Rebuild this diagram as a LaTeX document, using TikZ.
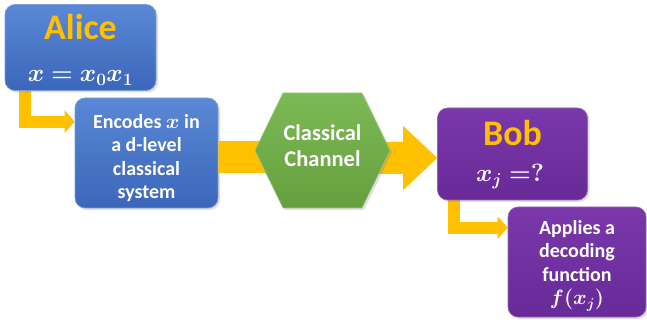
\documentclass[tikz,border=0pt]{standalone}
\usepackage{bm}
\usepackage{fontspec}
\setmainfont{Carlito}
\usetikzlibrary{arrows.meta,shadows,calc}
\definecolor{boxblue}{HTML}{4472C4}
\definecolor{bluetop}{HTML}{5A88D6}
\definecolor{bluebot}{HTML}{3C66BA}
\definecolor{boxpurple}{HTML}{7030A0}
\definecolor{purptop}{HTML}{7A38AA}
\definecolor{purpbot}{HTML}{682A98}
\definecolor{chgreen}{HTML}{70AD47}
\definecolor{greentop}{HTML}{7CB955}
\definecolor{greenbot}{HTML}{66A03E}
\definecolor{arrowyel}{HTML}{FFC000}
\definecolor{titleyel}{HTML}{FFC000}
\newcommand{\midfont}{\bfseries\fontsize{20}{23.5}\selectfont}
\newcommand{\chanfont}{\bfseries\fontsize{22.5}{26}\selectfont}
\newcommand{\mymathfont}{\fontsize{24}{28}\selectfont}
\newcommand{\titlefont}{\bfseries\fontsize{36}{38}\selectfont}
\newcommand{\lines}[1]{\begin{tabular}{@{}c@{}}#1\end{tabular}}
\tikzset{
  basebox/.style={rectangle, rounded corners=10pt, inner sep=0pt,
    drop shadow={shadow xshift=2pt, shadow yshift=-2pt, opacity=0.25}},
  bluebox/.style={basebox, top color=bluetop, bottom color=bluebot, draw=boxblue!70!white, line width=0.6pt},
  purplebox/.style={basebox, top color=purptop, bottom color=purpbot, draw=boxpurple!75!white, line width=0.6pt},
  boxtext/.style={text=white, inner sep=0pt, font=\midfont},
  elbow/.style={draw=arrowyel, line width=12pt, line join=miter,
    -{Triangle[length=10pt,width=22pt]}},
  bigarrow/.style={fill=arrowyel},
  title/.style={text=titleyel, font=\titlefont, anchor=base},
  mathtext/.style={text=white, font=\mymathfont, anchor=base},
}
\begin{document}
\begin{tikzpicture}[x=1pt,y=-1pt]
\useasboundingbox (0,0) rectangle (647,320);
% lower boxes
\node[bluebox, minimum width=143pt, minimum height=110pt] (enc) at (146.5,153) {};
\node[boxtext] (enct) at ([yshift=-6pt]enc.center) {\lines{Encodes $\bm{x}$ in\\ a d-level\\ classical\\ system}};
\node[purplebox, minimum width=138pt, minimum height=110pt] (app) at (577,262) {};
\node[boxtext] (appt) at ([yshift=-3pt]app.center) {\lines{Applies a\\ decoding\\ function\\ $\bm{f(x_j)}$}};
% elbow arrows
\coordinate (astart) at (25,88);
\coordinate (bstart) at (454,198);
\draw[elbow] (astart) |- ([yshift=-24pt]enc.north west);
\draw[elbow] (bstart) |- ([yshift=-21pt]app.north west);
% title boxes
\node[bluebox, minimum width=151pt, minimum height=86pt] (alice) at (80.5,47.5) {};
\node[title] (alicet) at (80.5,40) {Alice};
\node[mathtext] (alicem) at (80.5,82) {$\bm{x=x_0x_1}$};
\node[purplebox, minimum width=150pt, minimum height=92pt] (bob) at (512.5,154) {};
\node[title] (bobt) at (512.5,146) {Bob};
\node[mathtext] (bobm) at (510,182) {$\bm{x_j=?}$};
% big arrow from enc to bob (behind hexagon)
\coordinate (tip) at ([yshift=-4pt]bob.west);
\fill[bigarrow] ([yshift=-20pt]enc.east) -- ([xshift=-34pt,yshift=-16pt]tip)
  -- ([xshift=-34pt,yshift=-32pt]tip) -- (tip) -- ([xshift=-34pt,yshift=32pt]tip)
  -- ([xshift=-34pt,yshift=16pt]tip) -- ([yshift=12pt]enc.east) -- cycle;
% hexagon
\coordinate (hc) at (322.5,150.5);
\fill[gray, opacity=0.25] ($(hc)+(-65.5,2)$) -- ($(hc)+(-37.5,-55.5)$) -- ($(hc)+(41.5,-55.5)$) -- ($(hc)+(69.5,2)$) -- ($(hc)+(41.5,59.5)$) -- ($(hc)+(-37.5,59.5)$) -- cycle;
\shade[top color=greentop, bottom color=greenbot, draw=chgreen!70!white, line width=0.6pt]
  ($(hc)+(-67.5,0)$) -- ($(hc)+(-39.5,-57.5)$) -- ($(hc)+(39.5,-57.5)$) -- ($(hc)+(67.5,0)$) -- ($(hc)+(39.5,57.5)$) -- ($(hc)+(-39.5,57.5)$) -- cycle;
\node[boxtext, font=\chanfont] (chan) at ([yshift=2pt]hc) {\lines{Classical\\ Channel}};
\end{tikzpicture}
\end{document}
